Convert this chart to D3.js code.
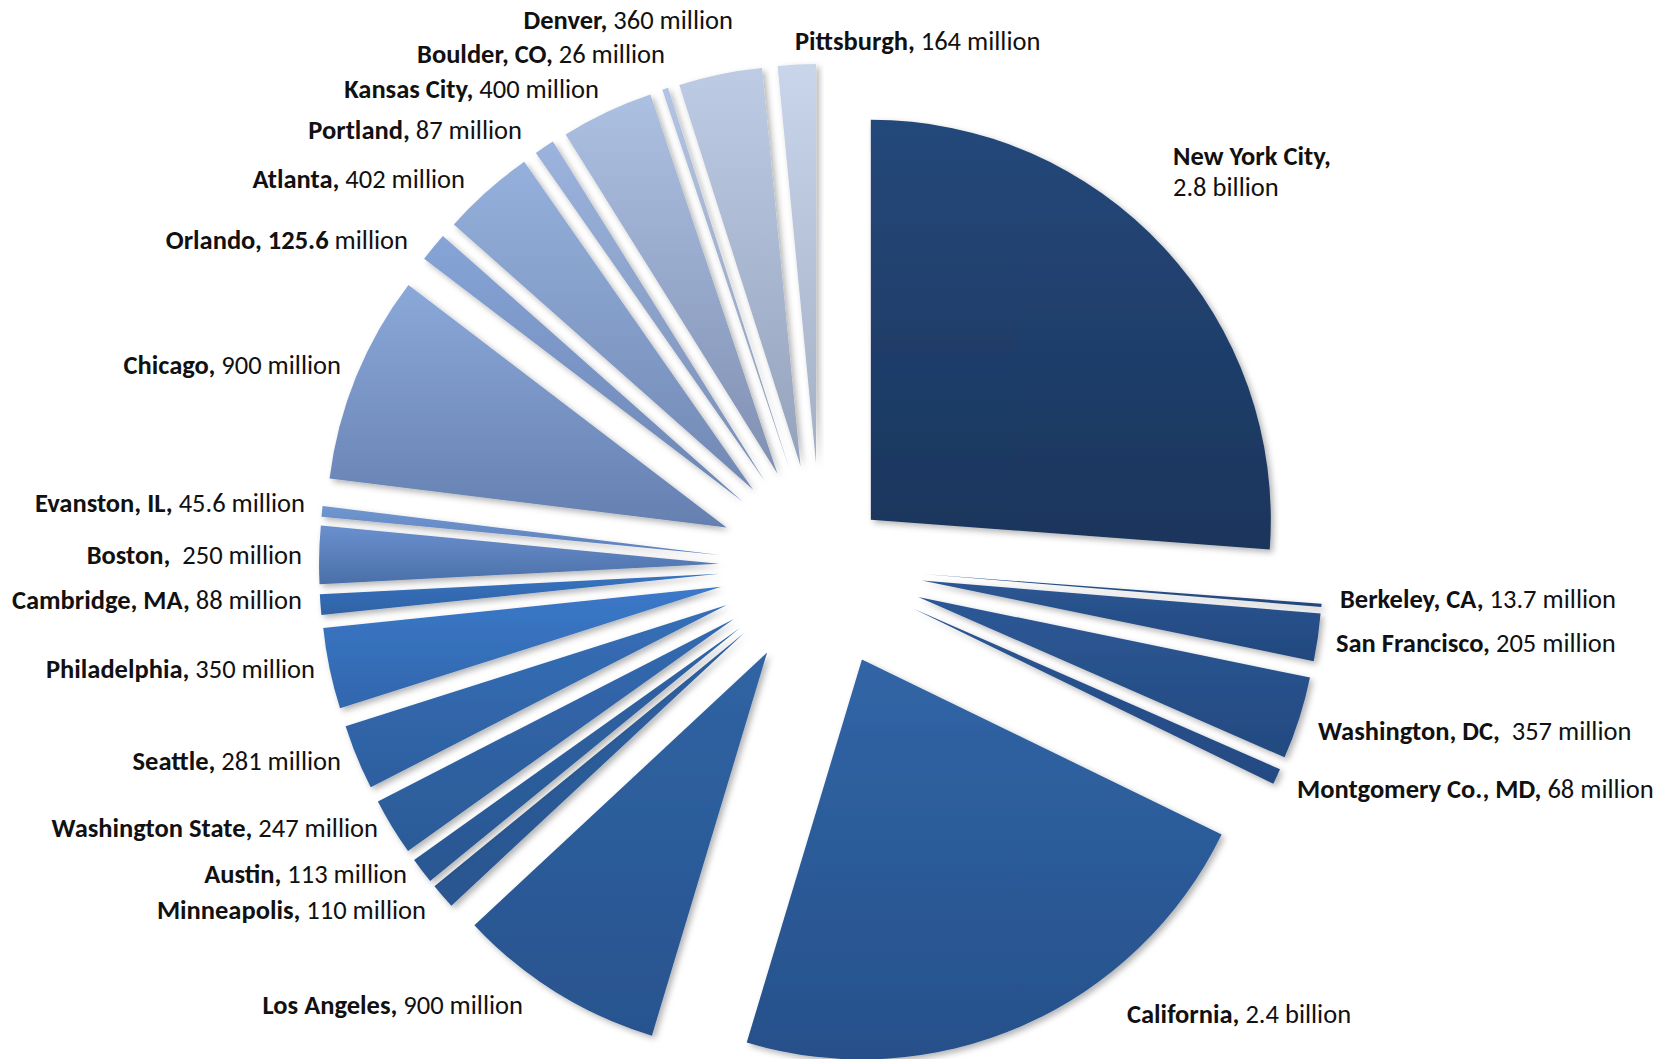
<!DOCTYPE html>
<html>
<head>
<meta charset="utf-8">
<script src="https://cdn.jsdelivr.net/npm/d3@7"></script>
<style>
  body { margin: 0; background: #fff; }
  text { font-family: Calibri, Carlito, Lato, sans-serif; white-space: pre; fill: #111; }
</style>
</head>
<body>
<div id="chart"></div>
<script>
// data, clockwise from 12 o'clock
var cities = ["New York City", "Berkeley, CA", "San Francisco", "Washington, DC", "Montgomery Co., MD",
  "California", "Los Angeles", "Minneapolis", "Austin", "Washington State", "Seattle", "Philadelphia",
  "Cambridge, MA", "Boston", "Evanston, IL", "Chicago", "Orlando", "Atlanta", "Portland", "Kansas City",
  "Boulder, CO", "Denver", "Pittsburgh"];
// millions of dollars
var funding = [2800, 13.7, 205, 357, 68, 2400, 900, 110, 113, 247, 281, 350, 88, 250, 45.6, 900, 125.6,
  402, 87, 400, 26, 360, 164];

// the number is bold too for these, and a couple of labels have a double space
var boldValue = ["Orlando"];
var wideGap = ["Boston", "Washington, DC"];

// fill: lighter top, darker bottom of each slice
var topColors = ["#24487a", "#2a5490", "#2b5693", "#2c5896", "#2b5693", "#3165a6", "#3064a4", "#2f62a2",
  "#3064a6", "#3369b0", "#366fb8", "#3b79c9", "#3873c0", "#6a90ce", "#7096d0", "#8aa8d8", "#86a4d7",
  "#95b0dc", "#9bb3dd", "#acc0e2", "#b3c4e3", "#bdcbe5", "#c9d5ea"];
var bottomColors = ["#1b355c", "#23467a", "#22487e", "#234a80", "#244a82", "#26508a", "#28538e", "#29558f",
  "#2a5792", "#2c5b98", "#2d5f9f", "#3166ad", "#2f62a6", "#4b6fa8", "#5d80bb", "#6580b0", "#6d86b3",
  "#7188b4", "#7a8fb6", "#8090b3", "#8e9cb8", "#95a2bc", "#a3afc4"];

// how far each slice is pulled out
var explode = [68, 102, 102, 102, 102, 102, 102, 102, 102, 102, 102, 102, 102, 102, 102, 102, 102, 102,
  102, 102, 102, 102, 102];

// label anchors [x, y, text-anchor], dragged by hand like in the original
var labelAt = [
  [1173, 156, "start"], [1340, 599, "start"], [1336, 643, "start"], [1318, 731, "start"], [1297, 789, "start"],
  [1127, 1014, "start"], [523, 1005, "end"], [426, 910, "end"], [407, 874, "end"], [378, 828, "end"],
  [341, 761, "end"], [315, 669, "end"], [302, 600, "end"], [302, 555, "end"], [305, 503, "end"],
  [341, 365, "end"], [408, 240, "end"], [465, 179, "end"], [522, 130, "end"], [599, 89, "end"],
  [665, 54, "end"], [733, 20, "end"], [795, 41, "start"]
];

var width = 1662, height = 1059;
var cx = 821, cy = 566, radius = 400;
var fontSize = 26.5;

var svg = d3.select("#chart").append("svg")
  .attr("width", width)
  .attr("height", height);

var defs = svg.append("defs");

var shadow = defs.append("filter")
  .attr("id", "shadow")
  .attr("x", "-10%").attr("y", "-10%")
  .attr("width", "130%").attr("height", "130%");
shadow.append("feDropShadow")
  .attr("dx", 3).attr("dy", 3)
  .attr("stdDeviation", 3)
  .attr("flood-color", "#000")
  .attr("flood-opacity", 0.3);

cities.forEach(function(c, i) {
  var g = defs.append("linearGradient")
    .attr("id", "grad" + i)
    .attr("x1", 0).attr("y1", 0).attr("x2", 0).attr("y2", 1);
  g.append("stop").attr("offset", "0%").attr("stop-color", topColors[i]);
  g.append("stop").attr("offset", "100%").attr("stop-color", bottomColors[i]);
});

var pie = d3.pie()
  .sort(null)
  .value(function(d) { return d; })
  .startAngle(0)
  .endAngle(2 * Math.PI);

var arc = d3.arc()
  .innerRadius(0)
  .outerRadius(radius);

var slices = pie(funding);

var pieG = svg.append("g")
  .attr("transform", "translate(" + cx + "," + cy + ")");

pieG.selectAll("path")
  .data(slices)
  .enter()
  .append("path")
    .attr("d", arc)
    .attr("fill", function(d, i) { return "url(#grad" + i + ")"; })
    .attr("filter", "url(#shadow)")
    .attr("transform", function(d, i) {
      var mid = (d.startAngle + d.endAngle) / 2;
      return "translate(" + (Math.sin(mid) * explode[i]) + "," + (-Math.cos(mid) * explode[i]) + ")";
    });

function fmt(v) {
  return v >= 1000 ? (v / 1000) + " billion" : v + " million";
}

// labels
var labels = svg.append("g")
  .style("font-size", fontSize + "px");

cities.forEach(function(c, i) {
  var pos = labelAt[i];
  var t = labels.append("text")
    .attr("x", pos[0])
    .attr("y", pos[1])
    .attr("dy", "0.35em")
    .attr("text-anchor", pos[2]);

  if (i === 0) {
    // New York City label wraps onto two lines
    t.append("tspan").attr("font-weight", "bold").text(c + ",");
    labels.append("text")
      .attr("x", pos[0])
      .attr("y", pos[1] + 31)
      .attr("dy", "0.35em")
      .attr("text-anchor", pos[2])
      .text(fmt(funding[i]));
    return;
  }

  var gap = wideGap.indexOf(c) >= 0 ? "  " : " ";
  if (boldValue.indexOf(c) >= 0) {
    var parts = fmt(funding[i]).split(" ");
    t.append("tspan").attr("font-weight", "bold").text(c + "," + gap + parts[0]);
    t.append("tspan").text(" " + parts[1]);
  } else {
    t.append("tspan").attr("font-weight", "bold").text(c + ",");
    t.append("tspan").text(gap + fmt(funding[i]));
  }
});
</script>
</body>
</html>
